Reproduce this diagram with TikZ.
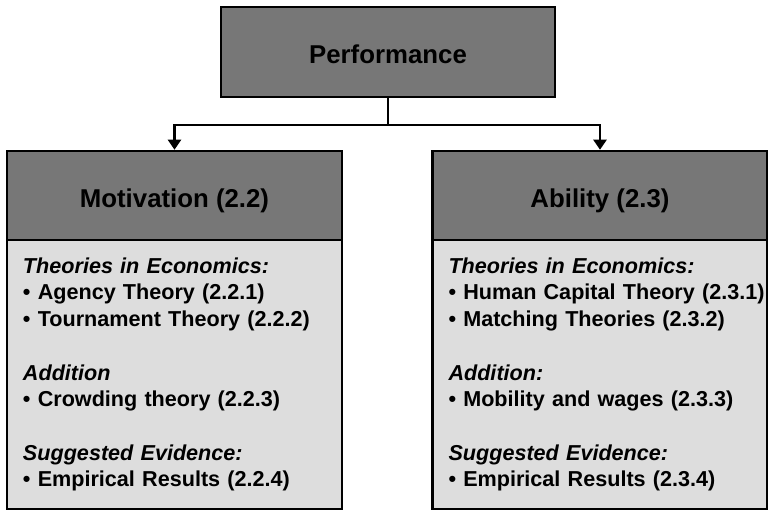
\documentclass[tikz,border=0pt]{standalone}
\usepackage{fontspec}
\setmainfont{Liberation Sans}
\usetikzlibrary{positioning,arrows.meta}

\definecolor{darkbox}{RGB}{119,119,119}
\definecolor{lightbox}{RGB}{221,221,221}

\tikzstyle{p} = [rectangle, draw, fill=darkbox, minimum width=334pt, minimum height=90pt, text height=24pt, text depth=0pt, line width=2.5pt, font=\fontsize{25.8}{31}\selectfont\bfseries]
\tikzstyle{h} = [rectangle, draw, fill=darkbox, minimum width=335pt, minimum height=89pt, text height=24pt, text depth=0pt, line width=2.5pt, font=\fontsize{25.8}{31}\selectfont\bfseries]
\tikzstyle{t} = [rectangle, draw, fill=lightbox, minimum width=335pt, minimum height=269pt, text width=303pt, align=left, line width=2.5pt, font=\fontsize{21.6}{26.7}\selectfont\bfseries]
\tikzstyle{a} = [-{Triangle[length=10pt,width=13pt]}, line width=2.2pt]

\newcommand{\itm}[1]{\mbox{\textbullet\ #1}}

\begin{document}
\begin{tikzpicture}
	\useasboundingbox (0,0) rectangle (768pt,-510pt);

	\node [p] (pf) at (388pt,-52pt) {Performance};
	\node [h] (mh) at (174.5pt,-195.5pt) {Motivation (2.2)};
	\node [h, right of=mh, node distance=425.5pt] (ah) {Ability (2.3)};
	\node [t, below of=mh, node distance=179pt] (mb) {%
		\textit{Theories in Economics:}\\
		\itm{Agency Theory (2.2.1)}\\
		\itm{Tournament Theory (2.2.2)}\\[26.7pt]
		\textit{Addition}\\
		\itm{Crowding theory (2.2.3)}\\[26.7pt]
		\textit{Suggested Evidence:}\\
		\itm{Empirical Results (2.2.4)}};
	\node [t, below of=ah, node distance=179pt] (ab) {%
		\textit{Theories in Economics:}\\
		\itm{Human Capital Theory (2.3.1)}\\
		\itm{Matching Theories (2.3.2)}\\[26.7pt]
		\textit{Addition:}\\
		\itm{Mobility and wages (2.3.3)}\\[26.7pt]
		\textit{Suggested Evidence:}\\
		\itm{Empirical Results (2.3.4)}};

	\coordinate (fork) at ([yshift=-27pt]pf.south);
	\draw [line width=2.2pt] (pf.south) -- (fork);
	\draw [a] (fork) -| (mh.north);
	\draw [a] (fork) -| (ah.north);
\end{tikzpicture}
\end{document}
